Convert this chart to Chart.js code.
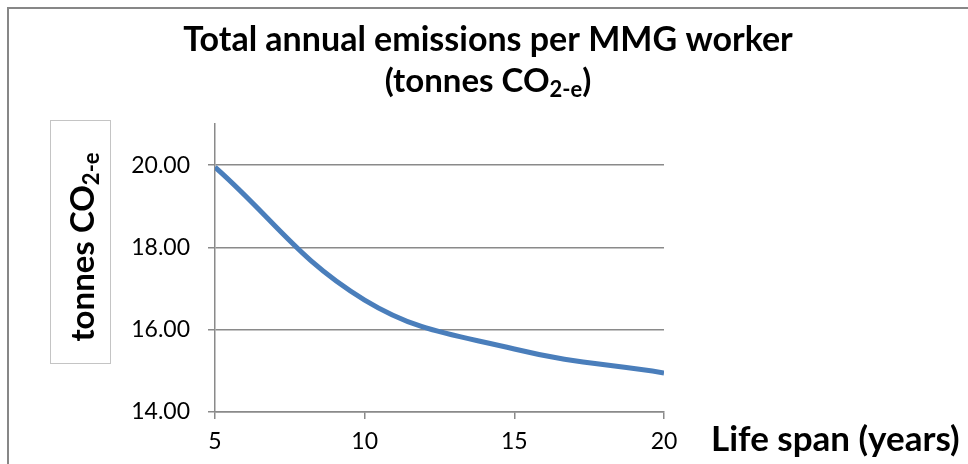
<!DOCTYPE html>
<html>
<head>
<meta charset="utf-8">
<script src="https://cdn.jsdelivr.net/npm/chart.js@4/dist/chart.umd.min.js"></script>
<style>
  body { margin: 0; background: #fff; }
  #wrap { width: 968px; height: 464px; }
</style>
</head>
<body>
<div id="wrap"><canvas id="chart" width="968" height="464"></canvas></div>
<script>
// chart data
var years = [5, 10, 15, 20];
var emissions = [19.95, 16.72, 15.53, 14.95];
var xTickValues = [5, 10, 15, 20];
var yTickValues = [14, 16, 18, 20];

var titleLine1 = 'Total annual emissions per MMG worker';
var titleLine2 = [{ t: '(tonnes CO' }, { t: '2-e', sub: true }, { t: ')' }];
var yTitle = [{ t: 'tonnes CO' }, { t: '2-e', sub: true }];
var xTitle = 'Life span (years)';

var FONT = 'Lato, "Liberation Sans", sans-serif';
var gridColor = '#8a8a8a';

// draw text pieces with subscripts, centred on cx
function drawRich(ctx, parts, cx, cy, size, subSize) {
    var total = 0;
    parts.forEach(function (p) {
        ctx.font = 'bold ' + (p.sub ? subSize : size) + 'px ' + FONT;
        p.w = ctx.measureText(p.t).width;
        total += p.w;
    });
    var x = cx - total / 2;
    ctx.textAlign = 'left';
    ctx.textBaseline = 'middle';
    parts.forEach(function (p) {
        ctx.font = 'bold ' + (p.sub ? subSize : size) + 'px ' + FONT;
        ctx.fillText(p.t, x, p.sub ? cy + size * 0.28 : cy);
        x += p.w;
    });
}

var decorations = {
    id: 'decorations',
    afterDraw: function (chart) {
        var ctx = chart.ctx;
        ctx.save();
        // outer border of chart object
        ctx.strokeStyle = '#878787';
        ctx.lineWidth = 2;
        ctx.strokeRect(8, 8, 970, 470);

        ctx.fillStyle = '#000';
        ctx.font = 'bold 34px ' + FONT;
        ctx.textAlign = 'center';
        ctx.textBaseline = 'middle';
        ctx.fillText(titleLine1, 488, 40);
        drawRich(ctx, titleLine2, 488, 81, 33, 22);

        // y axis title box
        ctx.strokeStyle = '#c4c4c4';
        ctx.lineWidth = 1;
        ctx.strokeRect(50.5, 120.5, 60, 243);
        ctx.save();
        ctx.translate(83, 247);
        ctx.rotate(-Math.PI / 2);
        drawRich(ctx, yTitle, 0, 0, 33, 22);
        ctx.restore();

        // x axis title
        ctx.font = 'bold 35px ' + FONT;
        ctx.textAlign = 'left';
        ctx.textBaseline = 'middle';
        ctx.fillText(xTitle, 711, 440);
        ctx.restore();
    }
};

var ctx = document.getElementById('chart').getContext('2d');
var chart = new Chart(ctx, {
    type: 'line',
    data: {
        datasets: [{
            data: years.map(function (x, i) { return { x: x, y: emissions[i] }; }),
            borderColor: '#4a7ebb',
            borderWidth: 5,
            pointRadius: 0,
            tension: 0.4,
            fill: false
        }]
    },
    options: {
        responsive: false,
        animation: false,
        layout: { padding: { top: 124, right: 304, left: 0, bottom: 0 } },
        plugins: {
            legend: { display: false },
            tooltip: { enabled: false }
        },
        scales: {
            x: {
                type: 'linear',
                min: 5,
                max: 20,
                afterBuildTicks: function (scale) {
                    scale.ticks = xTickValues.map(function (v) { return { value: v }; });
                },
                afterFit: function (scale) { scale.height = 52; },
                grid: { drawOnChartArea: false, color: gridColor, lineWidth: 1.5, tickLength: 7 },
                border: { color: gridColor, width: 1.5 },
                ticks: { color: '#000', padding: 9, maxRotation: 0, font: { family: FONT, size: 23 } }
            },
            y: {
                min: 14,
                max: 21,
                afterBuildTicks: function (scale) {
                    scale.ticks = yTickValues.map(function (v) { return { value: v }; });
                },
                afterFit: function (scale) { scale.width = 215; },
                grid: { color: gridColor, lineWidth: 1.5, tickLength: 7 },
                border: { color: gridColor, width: 1.5 },
                ticks: {
                    color: '#000',
                    padding: 18,
                    font: { family: FONT, size: 23 },
                    callback: function (v) { return v.toFixed(2); }
                }
            }
        }
    },
    plugins: [decorations]
});
</script>
</body>
</html>
